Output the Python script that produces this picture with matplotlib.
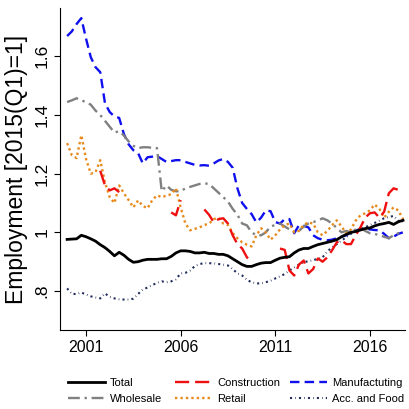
import numpy as np
import matplotlib
matplotlib.use('Agg')
import matplotlib.pyplot as plt

plt.rcParams['font.family'] = ['Liberation Sans', 'DejaVu Sans']

# quarters 2000Q1 .. 2017Q4
years = 2000 + np.arange(72) / 4.0
nan = np.nan

total = [0.976, 0.977, 0.978, 0.99, 0.985, 0.978, 0.97, 0.958, 0.948, 0.935, 0.92, 0.932,
         0.922, 0.908, 0.898, 0.9, 0.905, 0.908, 0.908, 0.908, 0.91, 0.91, 0.918, 0.93,
         0.937, 0.937, 0.935, 0.93, 0.93, 0.932, 0.928, 0.928, 0.925, 0.925, 0.92, 0.91,
         0.9, 0.89, 0.884, 0.884, 0.89, 0.895, 0.897, 0.897, 0.905, 0.912, 0.915, 0.917,
         0.93, 0.94, 0.945, 0.945, 0.952, 0.958, 0.962, 0.966, 0.97, 0.975, 0.985, 0.993,
         1.0, 1.003, 1.008, 1.013, 1.015, 1.022, 1.027, 1.03, 1.034, 1.027, 1.036, 1.041]

construction = [nan, nan, nan, nan, nan, nan, nan, 1.21, 1.16, 1.143, 1.15, 1.137,
                nan, nan, nan, nan, nan, nan, nan, nan, nan, nan, 1.068, 1.058,
                1.11, nan, nan, nan, nan, 1.078, 1.06, 1.034, 1.045, 1.048, 1.03, 0.99,
                0.96, 0.945, 0.915, 0.898, nan, nan, nan, nan, nan, 0.945, 0.94, 0.87,
                0.853, 0.89, 0.904, 0.86, 0.875, 0.911, 0.9, 0.915, 0.939, 0.966, 0.973, 0.96,
                0.96, 0.99, 1.017, 1.05, 1.065, 1.068, 1.05, 1.07, 1.133, 1.15, 1.145, 1.137]

manufacturing = [1.669, 1.685, 1.71, 1.73, 1.66, 1.597, 1.563, 1.546, 1.44, 1.41, 1.395, 1.39,
                 1.335, 1.30, 1.28, 1.27, 1.235, 1.256, 1.258, 1.26, 1.25, 1.24, 1.243, 1.246,
                 1.246, 1.24, 1.235, 1.23, 1.228, 1.229, 1.227, 1.235, 1.245, 1.25, 1.24, 1.22,
                 1.15, 1.1, 1.08, 1.062, 1.034, 1.05, 1.075, 1.072, 1.035, 1.03, 1.045, 1.045,
                 0.997, 1.024, 1.022, 1.017, 0.99, 0.98, 0.975, 0.973, 0.975, 0.98, 0.985, 0.99,
                 1.0, 1.006, 1.01, 1.014, 1.01, 1.008, 1.007, 0.995, 0.98, 0.985, 0.995, 1.0]

wholesale = [1.444, 1.45, 1.457, 1.45, 1.444, 1.435, 1.415, 1.40, 1.38, 1.36, 1.34, 1.345,
             1.33, 1.31, 1.295, 1.287, 1.29, 1.29, 1.288, 1.287, 1.14, 1.16, 1.145, 1.14,
             1.14, 1.15, 1.155, 1.16, 1.165, 1.167, 1.165, 1.15, 1.135, 1.12, 1.105, 1.08,
             1.06, 1.03, 1.024, 1.0, 0.99, 0.99, 1.0, 1.02, 1.025, 1.03, 1.02, 1.01,
             1.0, 1.005, 1.02, 1.03, 1.035, 1.04, 1.048, 1.041, 1.03, 1.015, 1.0, 1.005,
             1.0, 1.01, 1.017, 1.005, 0.997, 0.995, 0.99, 0.985, 0.98, 0.99, 0.997, 1.0]

retail = [1.304, 1.263, 1.253, 1.331, 1.25, 1.2, 1.205, 1.246, 1.17, 1.12, 1.1, 1.16,
          1.133, 1.11, 1.085, 1.109, 1.09, 1.082, 1.11, 1.126, 1.12, 1.125, 1.13, 1.15,
          1.085, 1.03, 1.007, 1.012, 1.017, 1.025, 1.03, 1.045, 1.05, 1.03, 1.025, 0.997,
          0.98, 0.966, 0.958, 0.952, 0.99, 1.014, 1.0, 0.975, 0.99, 1.01, 1.025, 1.03,
          1.0, 1.005, 1.025, 1.034, 1.03, 1.0, 0.99, 1.005, 1.024, 1.041, 1.02, 0.997,
          1.01, 1.04, 1.058, 1.065, 1.075, 1.095, 1.08, 1.05, 1.07, 1.085, 1.075, 1.045]

accfood = [0.809, 0.79, 0.79, 0.795, 0.788, 0.782, 0.778, 0.775, 0.792, 0.78, 0.775, 0.772,
           0.771, 0.771, 0.774, 0.79, 0.805, 0.812, 0.82, 0.828, 0.833, 0.83, 0.833, 0.84,
           0.86, 0.862, 0.87, 0.885, 0.892, 0.895, 0.895, 0.894, 0.892, 0.89, 0.887, 0.875,
           0.86, 0.853, 0.838, 0.83, 0.826, 0.826, 0.83, 0.835, 0.843, 0.85, 0.858, 0.87,
           0.88, 0.89, 0.898, 0.902, 0.905, 0.91, 0.915, 0.935, 0.949, 0.96, 0.972, 0.983,
           0.995, 1.007, 1.012, 1.017, 1.025, 1.032, 1.04, 1.048, 1.052, 1.056, 1.04, 1.035]

fig = plt.figure(figsize=(4.09, 4.09), dpi=100)
ax = fig.add_axes([0.147, 0.193, 0.843, 0.787])

ax.plot(years, manufacturing, color='#1010ee', lw=1.7, dashes=(4, 2.2), label='Manufactuting')
ax.plot(years, wholesale, color='#808080', lw=1.7, dashes=(5, 2, 1, 2), label='Wholesale')
ax.plot(years, retail, color='#e8891b', lw=1.7, dashes=(1, 1.3), label='Retail')
ax.plot(years, accfood, color='#1f2d5c', lw=1.5, dashes=(1, 1.5, 0.3, 1.5), label='Acc. and Food')
ax.plot(years, construction, color='#ee1010', lw=1.7, dashes=(6, 2.5), label='Construction')
ax.plot(years, total, color='black', lw=2.0, label='Total')

ax.set_xlim(1999.63, 2017.85)
ax.set_ylim(0.667, 1.764)
ax.set_xticks([2001, 2006, 2011, 2016])
ax.set_xticklabels(['2001', '2006', '2011', '2016'], fontsize=11.5)
ax.set_yticks([0.8, 1.0, 1.2, 1.4, 1.6])
ax.set_yticklabels(['.8', '1', '1.2', '1.4', '1.6'], rotation=90, va='center', fontsize=12.5)
ax.tick_params(length=4, width=0.8)
ax.spines['top'].set_visible(False)
ax.spines['right'].set_visible(False)
ax.set_ylabel('Employment [2015(Q1)=1]', fontsize=16.5, labelpad=5)

# legend: three columns placed separately
h, l = ax.get_legend_handles_labels()
hd = dict(zip(l, h))
columns = [['Total', 'Wholesale'], ['Construction', 'Retail'], ['Manufactuting', 'Acc. and Food']]
col_x = [0.166, 0.428, 0.709]
for names_col, x0 in zip(columns, col_x):
    fig.legend([hd[n] for n in names_col], names_col, loc='lower left',
               bbox_to_anchor=(x0, 0.012), frameon=False, borderpad=0, borderaxespad=0,
               fontsize=8, handlelength=3.3, handletextpad=0.5, labelspacing=0.55)

fig.savefig('out.png', dpi=100)
